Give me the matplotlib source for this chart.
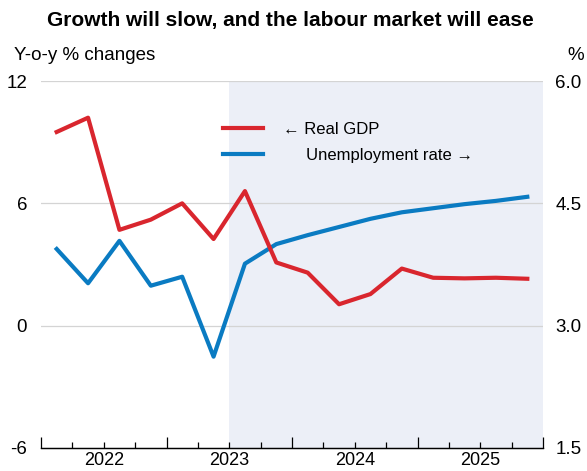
"""Growth and unemployment outlook chart"""
import numpy as np
import matplotlib.pyplot as plt
from matplotlib.lines import Line2D
from matplotlib.transforms import blended_transform_factory

plt.rcParams['font.family'] = ['Liberation Sans', 'DejaVu Sans']

# Quarterly data, 2022Q1 - 2025Q4
quarters = np.arange(2022, 2026, 0.25) + 0.125
real_gdp = [9.5, 10.2, 4.7, 5.2, 6.0, 4.25, 6.6, 3.1, 2.6,
            1.05, 1.55, 2.8, 2.35, 2.32, 2.35, 2.3]
unemployment = [3.94, 3.52, 4.04, 3.49, 3.60, 2.62, 3.76, 4.00, 4.11,
                4.21, 4.31, 4.39, 4.44, 4.49, 4.53, 4.58]
years = [2022, 2023, 2024, 2025]
forecast_start = 2023.5

left_ticks = [-6, 0, 6, 12]
right_ticks = [1.5, 3.0, 4.5, 6.0]

red = '#d9262e'
blue = '#0a7bc2'
shade = '#eceff7'

fig = plt.figure(figsize=(5.87, 4.71), dpi=100)
ax = fig.add_axes([41 / 587, 1 - 448 / 471, 502 / 587, 367 / 471])
ax2 = ax.twinx()

# Forecast shading and gridlines sit on the lower (right-hand) axes
ax2.axvspan(forecast_start, 2026, color=shade, lw=0, zorder=0)
for y in right_ticks[1:]:
    ax2.axhline(y, color='#d4d4d4', lw=0.9, zorder=1)

ax2.plot(quarters, unemployment, color=blue, lw=3, zorder=3)
ax.plot(quarters, real_gdp, color=red, lw=3, zorder=3)

ax.set_xlim(2022, 2026)
ax.set_ylim(-6, 12)
ax2.set_ylim(1.5, 6.0)

ax.set_yticks(left_ticks)
ax.set_yticklabels([str(t) for t in left_ticks])
ax2.set_yticks(right_ticks)
ax2.set_yticklabels([f'{t:.1f}' for t in right_ticks])

for a in (ax, ax2):
    for s in ('top', 'left', 'right'):
        a.spines[s].set_visible(False)
    a.spines['bottom'].set_color('black')
    a.spines['bottom'].set_linewidth(0.9)

ax.tick_params(axis='y', length=0, labelsize=13.5, pad=10)
ax2.tick_params(axis='y', length=0, labelsize=13.5, pad=9)

ax.set_xticks(years + [2026])
ax.set_xticklabels([])
ax.set_xticks(np.arange(2022, 2026.01, 0.25), minor=True)
ax.tick_params(axis='x', which='major', direction='in', length=8, width=0.9)
ax.tick_params(axis='x', which='minor', direction='in', length=4, width=0.9)

tr = blended_transform_factory(ax.transData, ax.transAxes)
for yr in years:
    ax.text(yr + 0.5, -0.012, str(yr), transform=tr, ha='center', va='top',
            fontsize=13)

ax.set_zorder(ax2.get_zorder() + 1)
ax.patch.set_visible(False)
ax2.patch.set_visible(True)

# Legend
handles = [Line2D([], [], color=red, lw=3),
           Line2D([], [], color=blue, lw=3)]
ax.legend(handles, ['\u2190 Real GDP', '     Unemployment rate \u2192'],
          loc='upper left', bbox_to_anchor=(0.332, 0.93), frameon=False,
          fontsize=12, handlelength=2.45, handletextpad=1.15, labelspacing=0.65)

fig.text(0.495, 0.957, 'Growth will slow, and the labour market will ease',
         ha='center', va='center', fontsize=15, fontweight='bold')
fig.text(14 / 587, 1 - 55 / 471, 'Y-o-y % changes', ha='left', va='center',
         fontsize=13.5)
fig.text(576 / 587, 1 - 55 / 471, '%', ha='center', va='center',
         fontsize=13.5)

fig.savefig('out.png', dpi=100)
